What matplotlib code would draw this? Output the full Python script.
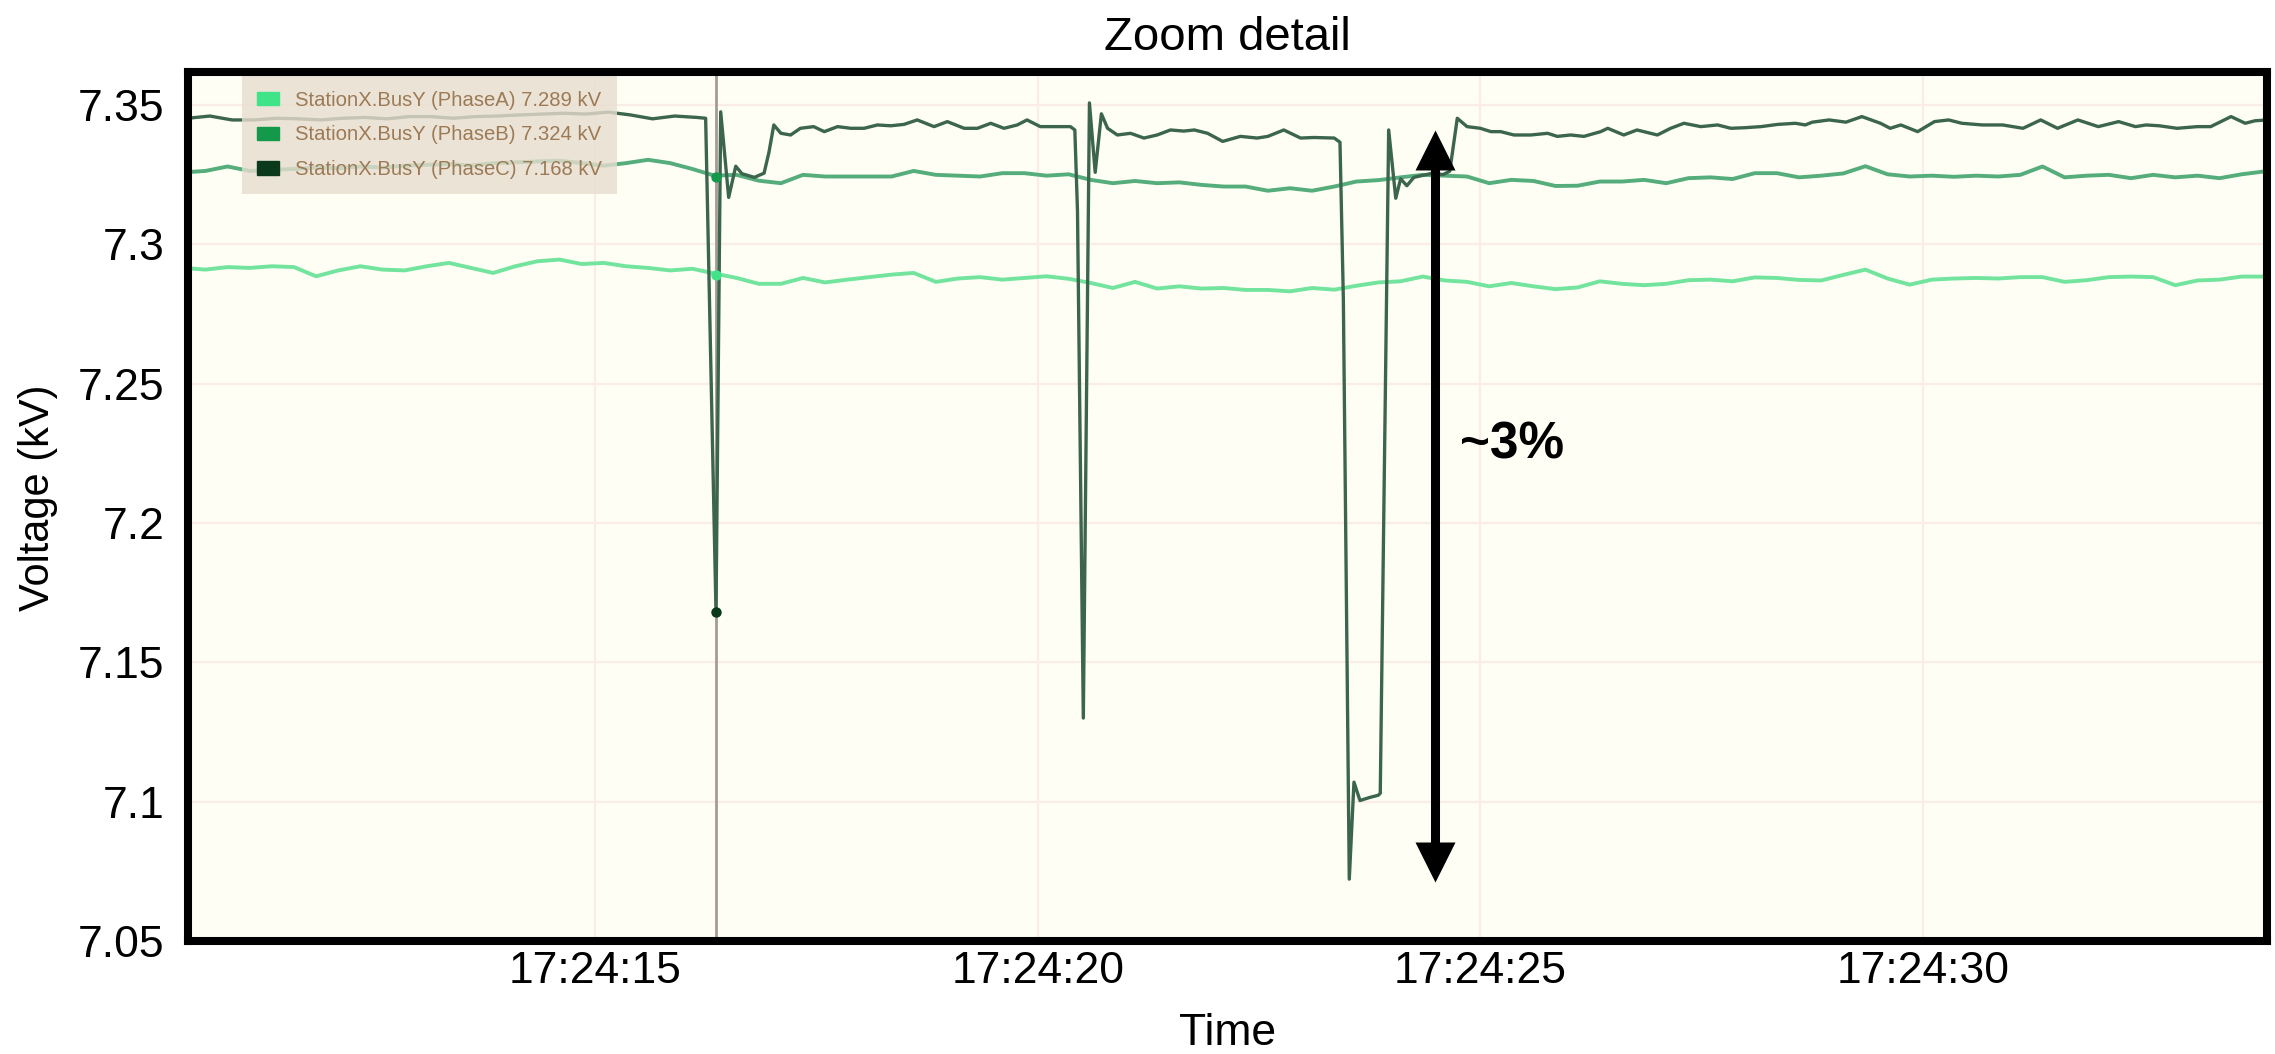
import numpy as np
import matplotlib.pyplot as plt
from matplotlib.patches import Patch
from matplotlib.ticker import FuncFormatter, MultipleLocator

plt.rcParams['font.family'] = ['Liberation Sans', 'DejaVu Sans']

# Phase A / B logged every 0.25 s (seconds after 17:24:00)
t_ab = 10.35 + 0.25 * np.arange(96)

phase_a = [
    7.2915, 7.2909, 7.2918, 7.2915, 7.2921, 7.2918, 7.2885, 7.2906, 7.2921, 7.2909,
    7.2906, 7.2921, 7.2933, 7.2915, 7.2897, 7.2921, 7.2939, 7.2945, 7.2929, 7.2933,
    7.2921, 7.2915, 7.2906, 7.2912,
    7.2895, 7.2879, 7.2858, 7.2858, 7.2879, 7.2863, 7.2873, 7.2882, 7.2891, 7.2897,
    7.2865, 7.2877, 7.2882, 7.2873, 7.2879, 7.2885, 7.2876, 7.2861, 7.2843, 7.2865,
    7.2841, 7.2849, 7.2841, 7.2843,
    7.2836, 7.2836, 7.2831, 7.2843, 7.2837, 7.2851, 7.2863, 7.2867, 7.2884, 7.2870,
    7.2865, 7.2849, 7.2861, 7.2849, 7.2839, 7.2845, 7.2867, 7.2858, 7.2853, 7.2858,
    7.2871, 7.2873, 7.2867,
    7.2881, 7.2879, 7.2872, 7.2870, 7.2890, 7.2909, 7.2877, 7.2855, 7.2873, 7.2877,
    7.2879, 7.2877, 7.2882, 7.2882, 7.2865, 7.2871, 7.2882, 7.2884, 7.2882, 7.2853,
    7.2870, 7.2873, 7.2884, 7.2884, 7.2885,
]

phase_b = [
    7.3258, 7.3263, 7.3279, 7.3263, 7.3267, 7.3270, 7.3275, 7.3273, 7.3279, 7.3275,
    7.3282, 7.3285, 7.3288, 7.3282, 7.3291, 7.3294, 7.3297, 7.3300, 7.3291, 7.3282,
    7.3291, 7.3303, 7.3291, 7.3270,
    7.3246, 7.3249, 7.3228, 7.3219, 7.3249, 7.3243, 7.3243, 7.3243, 7.3243, 7.3263,
    7.3249, 7.3246, 7.3243, 7.3255, 7.3255, 7.3246, 7.3251, 7.3231, 7.3219, 7.3227,
    7.3219, 7.3222, 7.3213, 7.3207,
    7.3207, 7.3192, 7.3201, 7.3192, 7.3207, 7.3225, 7.3230, 7.3240, 7.3249, 7.3246,
    7.3243, 7.3219, 7.3231, 7.3227, 7.3209, 7.3210, 7.3225, 7.3225, 7.3231, 7.3219,
    7.3237, 7.3240, 7.3234,
    7.3255, 7.3255, 7.3240, 7.3246, 7.3254, 7.3280, 7.3251, 7.3243, 7.3246, 7.3242,
    7.3246, 7.3243, 7.3249, 7.3279, 7.3240, 7.3246, 7.3249, 7.3237, 7.3249, 7.3240,
    7.3246, 7.3237, 7.3251, 7.3261, 7.3263,
]

# Phase C has its own timestamps, denser around the three sags
t_c = [
    10.40, 10.65, 10.90, 11.15, 11.40, 11.65, 11.90, 12.15, 12.40, 12.65,
    12.90, 13.15, 13.40, 13.65, 13.90, 14.15, 14.40, 14.65, 14.90, 15.15,
    15.40, 15.65, 15.90, 16.15, 16.25, 16.367, 16.42, 16.51, 16.59, 16.66,
    16.80, 16.91, 16.965, 17.02, 17.10, 17.21, 17.32, 17.47, 17.59, 17.74,
    17.89, 18.04, 18.19, 18.34, 18.49, 18.64, 18.83, 18.98, 19.17, 19.32,
    19.47, 19.62, 19.77, 19.88, 20.03, 20.22, 20.37, 20.42, 20.45, 20.516,
    20.585, 20.65, 20.72, 20.79, 20.90, 21.05, 21.20, 21.35, 21.50, 21.65,
    21.77, 21.92, 22.09, 22.29, 22.48, 22.60, 22.78, 22.97, 23.12, 23.35,
    23.415, 23.453, 23.52, 23.573, 23.641, 23.75, 23.848, 23.87, 23.965, 24.045,
    24.10, 24.17, 24.25, 24.46, 24.58, 24.655, 24.74, 24.85, 25.00, 25.12,
    25.23, 25.38, 25.57, 25.76, 25.87, 26.02, 26.17, 26.36, 26.44, 26.62,
    26.77, 27.00, 27.15, 27.30, 27.49, 27.68, 27.83, 27.98, 28.17, 28.36,
    28.56, 28.67, 28.75, 28.94, 29.13, 29.31, 29.52, 29.63, 29.75, 29.94,
    30.13, 30.29, 30.44, 30.67, 30.90, 31.13, 31.33, 31.52, 31.75, 31.98,
    32.21, 32.40, 32.52, 32.67, 32.87, 33.10, 33.25, 33.48, 33.64, 33.75,
    33.89,
]
phase_c = [
    7.3452, 7.3460, 7.3446, 7.3446, 7.3452, 7.3450, 7.3446, 7.3452, 7.3455, 7.3450,
    7.3458, 7.3458, 7.3452, 7.3458, 7.3460, 7.3464, 7.3467, 7.3470, 7.3467, 7.3474,
    7.3464, 7.3450, 7.3460, 7.3455, 7.3452, 7.1680, 7.3475, 7.3168, 7.3280, 7.3253,
    7.3240, 7.3255, 7.3330, 7.3428, 7.3398, 7.3392, 7.3416, 7.3422, 7.3404, 7.3422,
    7.3416, 7.3416, 7.3428, 7.3425, 7.3430, 7.3446, 7.3422, 7.3440, 7.3416, 7.3416,
    7.3434, 7.3416, 7.3428, 7.3446, 7.3422, 7.3422, 7.3422, 7.3410, 7.3120, 7.1300,
    7.3507, 7.3258, 7.3468, 7.3416, 7.3392, 7.3398, 7.3381, 7.3392, 7.3410, 7.3406,
    7.3410, 7.3398, 7.3369, 7.3387, 7.3381, 7.3387, 7.3410, 7.3381, 7.3383, 7.3381,
    7.3366, 7.2805, 7.0722, 7.1070, 7.1004, 7.1015, 7.1023, 7.1030, 7.3410, 7.3165,
    7.3235, 7.3210, 7.3240, 7.3255, 7.3250, 7.3262, 7.3452, 7.3422, 7.3416, 7.3404,
    7.3404, 7.3392, 7.3392, 7.3398, 7.3387, 7.3392, 7.3387, 7.3404, 7.3416, 7.3392,
    7.3410, 7.3392, 7.3416, 7.3434, 7.3422, 7.3428, 7.3416, 7.3418, 7.3422, 7.3430,
    7.3434, 7.3428, 7.3438, 7.3446, 7.3438, 7.3458, 7.3434, 7.3416, 7.3428, 7.3404,
    7.3440, 7.3446, 7.3434, 7.3428, 7.3428, 7.3416, 7.3446, 7.3416, 7.3446, 7.3422,
    7.3440, 7.3422, 7.3428, 7.3425, 7.3416, 7.3422, 7.3422, 7.3458, 7.3434, 7.3443,
    7.3446,
]

names = ['StationX.BusY (PhaseA)', 'StationX.BusY (PhaseB)', 'StationX.BusY (PhaseC)']
cursor_t = 16.367
cursor_kv = [7.289, 7.324, 7.168]

# span marked by the double arrow (kV) and where it sits in time
arrow_t = 24.488
arrow_kv = (7.0715, 7.3407)

line_cols = ['#72e49e', '#55ad7b', '#3c654d']
swatch_cols = ['#3fe488', '#14994a', '#0a3a1b']

fig = plt.figure(figsize=(22.75, 10.54), dpi=100)
ax = fig.add_axes([188 / 2275, 113 / 1054, 2079 / 2275, 869 / 1054])
ax.set_facecolor('#fffef4')

ax.plot(t_ab, phase_a, color=line_cols[0], lw=2.8, zorder=3)
ax.plot(t_ab, phase_b, color=line_cols[1], lw=2.8, zorder=3.5)
ax.plot(t_c, phase_c, color=line_cols[2], lw=2.4, zorder=4)

# cursor with the read-out points
ax.axvline(cursor_t, color='#a59b92', lw=2.0, zorder=2.5)
for v, c in zip(cursor_kv, swatch_cols):
    ax.plot(cursor_t, v, 'o', ms=7.5, color=c, mec='none', zorder=6)

# double-headed arrow built from a shaft and two triangle heads
head = 0.007
ax.plot([arrow_t, arrow_t], [arrow_kv[0] + head, arrow_kv[1] - head],
        color='black', lw=6.5, solid_capstyle='butt', zorder=7)
ax.plot(arrow_t, arrow_kv[1] - head, marker='^', ms=29, color='black', mec='none', zorder=7)
ax.plot(arrow_t, arrow_kv[0] + head, marker='v', ms=29, color='black', mec='none', zorder=7)
ax.text(24.77, 7.2281, '~3%', fontsize=37, fontweight='bold', va='center', ha='left', zorder=8)

ax.set_xlim(10.403, 33.886)
ax.set_ylim(7.05, 7.3618)
ax.xaxis.set_major_locator(MultipleLocator(5))
ax.xaxis.set_major_formatter(FuncFormatter(lambda s, _: f'17:24:{int(round(s)):02d}'))
ax.yaxis.set_major_locator(MultipleLocator(0.05))
ax.yaxis.set_major_formatter(FuncFormatter(lambda v, _: f'{v:g}'))
ax.grid(True, color='#f9ede6', lw=1.6)
ax.set_axisbelow(True)

ax.tick_params(axis='both', length=0, labelsize=32)
ax.tick_params(axis='y', pad=17)
ax.tick_params(axis='x', pad=7)
for sp in ax.spines.values():
    sp.set_linewidth(5.8)
    sp.set_color('black')
    sp.set_zorder(10)

ax.set_title('Zoom detail', fontsize=34, pad=16)
ax.set_ylabel('Voltage (kV)', fontsize=30)
ax.yaxis.set_label_coords(-0.0625, 0.51)
ax.set_xlabel('Time', fontsize=32)
ax.xaxis.set_label_coords(0.5, -0.083)

handles = [Patch(facecolor=c, edgecolor=c) for c in swatch_cols]
labels = [f'{n} {v:.3f} kV' for n, v in zip(names, cursor_kv)]
leg = ax.legend(handles, labels, loc='upper left',
                bbox_to_anchor=((242 - 188) / 2079, (941 - 76) / 869),
                borderaxespad=0, fontsize=14.6, frameon=True, fancybox=False,
                facecolor='#e8ddd0', edgecolor='none', framealpha=0.8,
                handlelength=1.1, handleheight=0.65, handletextpad=0.8,
                labelspacing=0.78, borderpad=0.72, labelcolor='#9c7a55')
leg.set_zorder(9)

fig.savefig('out.png', dpi=100)
